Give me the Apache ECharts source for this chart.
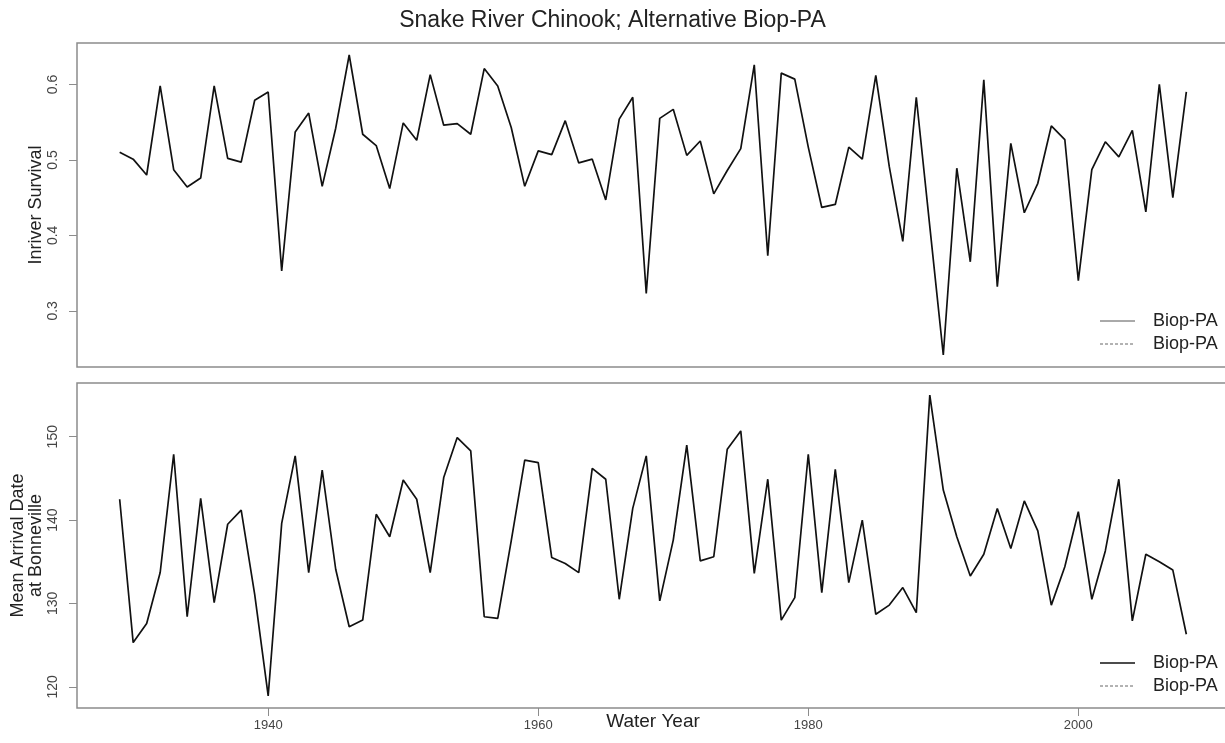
<!DOCTYPE html>
<html>
<head>
<meta charset="utf-8">
<script src="https://cdn.jsdelivr.net/npm/echarts@6/dist/echarts.min.js"></script>
<style>
  html, body { margin: 0; padding: 0; background: #fff; }
  #chart { width: 1225px; height: 743px; }
</style>
</head>
<body>
<div id="chart"></div>
<script>
// Water years, 1929 through 2008
const years = [];
for (let y = 1929; y <= 2008; y++) years.push(y);

// In-river survival, Biop-PA alternative
const survival = [
  0.510, 0.501, 0.480, 0.598, 0.487, 0.464, 0.476, 0.598, 0.502, 0.497,
  0.579, 0.590, 0.353, 0.537, 0.562, 0.465, 0.542, 0.639, 0.534, 0.519,
  0.462, 0.549, 0.526, 0.613, 0.546, 0.548, 0.534, 0.621, 0.598, 0.543,
  0.465, 0.512, 0.507, 0.552, 0.496, 0.501, 0.447, 0.554, 0.583, 0.323,
  0.555, 0.567, 0.506, 0.525, 0.455, 0.486, 0.515, 0.626, 0.373, 0.615,
  0.607, 0.517, 0.437, 0.441, 0.517, 0.501, 0.612, 0.491, 0.392, 0.583,
  0.412, 0.2415, 0.489, 0.365, 0.606, 0.332, 0.522, 0.430, 0.469, 0.545,
  0.527, 0.340, 0.487, 0.524, 0.504, 0.539, 0.431, 0.600, 0.450, 0.590
];

// Mean arrival date (day of year) at Bonneville Dam
const arrival = [
  142.5, 125.3, 127.6, 133.7, 147.9, 128.4, 142.6, 130.1, 139.5, 141.2,
  131.1, 118.9, 139.6, 147.7, 133.7, 146.0, 134.1, 127.2, 128.0, 140.7,
  138.0, 144.8, 142.5, 133.7, 145.1, 149.9, 148.3, 128.4, 128.2, 137.5,
  147.2, 146.9, 135.5, 134.8, 133.7, 146.2, 144.9, 130.5, 141.4, 147.7,
  130.3, 137.6, 149.0, 135.1, 135.6, 148.5, 150.7, 133.6, 144.9, 128.0,
  130.7, 147.9, 131.3, 146.1, 132.5, 140.0, 128.7, 129.8, 131.9, 128.9,
  155.0, 143.6, 138.0, 133.3, 135.9, 141.4, 136.6, 142.3, 138.7, 129.8,
  134.4, 141.0, 130.5, 136.3, 144.9, 127.9, 135.9, 135.0, 134.0, 126.3
];

// Tick labels
const yearTicks = [1940, 1960, 1980, 2000];
const survivalTicks = [0.3, 0.4, 0.5, 0.6];
const arrivalTicks = [120, 130, 140, 150];

const legendNames = ['Biop-PA', 'Biop-PA'];

// Axis limits padded by 4% of the data range on each side
function padded(arr) {
  const lo = Math.min(...arr), hi = Math.max(...arr);
  const p = (hi - lo) * 0.04;
  return [lo - p, hi + p];
}
const xr = padded(years);
const yr1 = padded(survival);
const yr2 = padded(arrival);

const FONT = '"Liberation Sans", Arial, Helvetica, sans-serif';
const BOX = '#8c8c8c';

const pairs = (vals) => years.map((y, i) => [y, vals[i]]);

const yAxisCommon = (ticks, range, name, gap) => ({
  type: 'value',
  min: range[0],
  max: range[1],
  name: name,
  nameLocation: 'middle',
  nameRotate: 90,
  nameGap: gap,
  nameMoveOverlap: false,
  nameTextStyle: { fontFamily: FONT, fontSize: 18, color: '#222', lineHeight: 18 },
  axisLine: { show: false },
  splitLine: { show: false },
  axisTick: { show: true, length: 8, customValues: ticks, lineStyle: { color: BOX } },
  axisLabel: {
    customValues: ticks,
    rotate: 90,
    margin: 17,
    fontFamily: FONT,
    fontSize: 14,
    color: '#444'
  }
});

const option = {
  animation: false,
  backgroundColor: '#fff',
  title: {
    text: 'Snake River Chinook; Alternative Biop-PA',
    left: 'center',
    top: 4,
    textStyle: { fontFamily: FONT, fontSize: 23, fontWeight: 'normal', color: '#222' }
  },
  grid: [
    { left: 77, top: 43, width: 1152, height: 324, show: true, borderColor: BOX, borderWidth: 1.5,
      backgroundColor: 'transparent', outerBoundsMode: 'none', containLabel: false },
    { left: 77, top: 383, width: 1152, height: 325, show: true, borderColor: BOX, borderWidth: 1.5,
      backgroundColor: 'transparent', outerBoundsMode: 'none', containLabel: false }
  ],
  xAxis: [
    {
      type: 'value', gridIndex: 0, min: xr[0], max: xr[1],
      axisLine: { show: false }, axisTick: { show: false }, axisLabel: { show: false }, splitLine: { show: false }
    },
    {
      type: 'value', gridIndex: 1, min: xr[0], max: xr[1],
      name: 'Water Year',
      nameLocation: 'middle',
      nameGap: 4,
      nameMoveOverlap: false,
      nameTextStyle: { fontFamily: FONT, fontSize: 19, color: '#222' },
      axisLine: { show: false },
      splitLine: { show: false },
      axisTick: { show: true, length: 8, customValues: yearTicks, lineStyle: { color: BOX } },
      axisLabel: {
        customValues: yearTicks, margin: 11, fontFamily: FONT, fontSize: 13, color: '#444',
        formatter: (v) => String(v)
      }
    }
  ],
  yAxis: [
    Object.assign({ gridIndex: 0 }, yAxisCommon(survivalTicks, yr1, 'Inriver Survival', 32)),
    Object.assign({ gridIndex: 1 }, yAxisCommon(arrivalTicks, yr2, 'Mean Arrival Date\nat Bonneville', 32))
  ],
  series: [
    {
      name: 'Inriver Survival', type: 'line', xAxisIndex: 0, yAxisIndex: 0,
      data: pairs(survival), showSymbol: false, silent: true,
      lineStyle: { color: '#111', width: 1.7 }
    },
    {
      name: 'Mean Arrival Date', type: 'line', xAxisIndex: 1, yAxisIndex: 1,
      data: pairs(arrival), showSymbol: false, silent: true,
      lineStyle: { color: '#111', width: 1.7 }
    }
  ],
  graphic: []
};

// Legend keys in the lower right of each panel
function legendBlock(y0, solidColor, solidWidth) {
  const items = [];
  const rows = [
    { dy: 0, dash: null, color: solidColor, width: solidWidth },
    { dy: 23, dash: [3, 2], color: '#666', width: 1 }
  ];
  rows.forEach((r, i) => {
    items.push({
      type: 'line',
      shape: { x1: 1100, y1: y0 + r.dy, x2: 1135, y2: y0 + r.dy },
      style: { stroke: r.color, lineWidth: r.width, lineDash: r.dash }
    });
    items.push({
      type: 'text',
      x: 1153, y: y0 + r.dy,
      style: { text: legendNames[i], font: '18px ' + FONT, fill: '#222', verticalAlign: 'middle', align: 'left' }
    });
  });
  return items;
}
option.graphic = legendBlock(321, '#555', 1).concat(legendBlock(663, '#111', 1.7));

const chart = echarts.init(document.getElementById('chart'), null, { renderer: 'canvas' });
chart.setOption(option);
</script>
</body>
</html>
